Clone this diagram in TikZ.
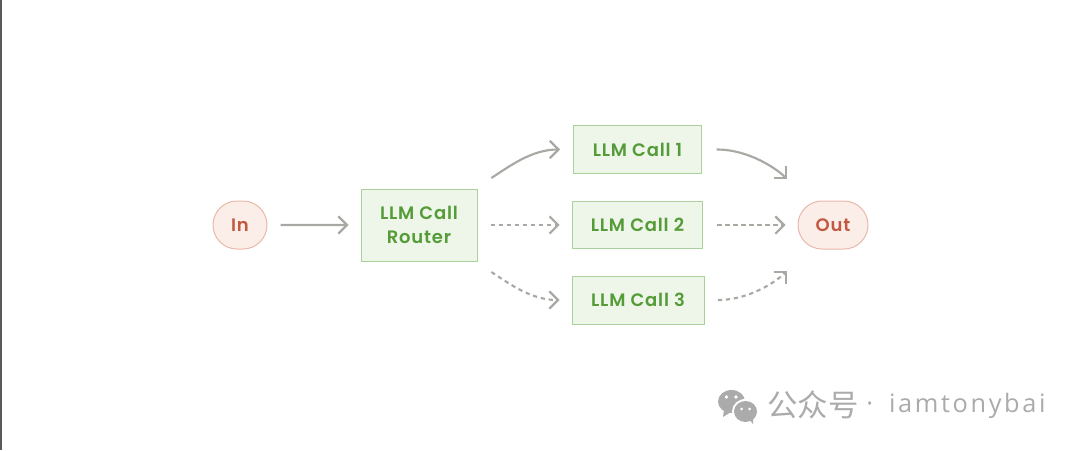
\documentclass[tikz,border=0pt]{standalone}
\usepackage{fontspec}
\setmainfont{Poppins}[BoldFont={Poppins SemiBold},LetterSpace=4.5]
\newfontfamily\markfont{Noto Sans CJK SC}
\newfontfamily\latinmark{Open Sans}[LetterSpace=10.5]
\usetikzlibrary{arrows.meta,shapes.misc}
\definecolor{flowgray}{HTML}{A9A9A3}
\definecolor{llmgreen}{HTML}{559C38}
\definecolor{llmfill}{HTML}{EEF6EA}
\definecolor{llmline}{HTML}{AAD19C}
\definecolor{termred}{HTML}{C2583F}
\definecolor{termfill}{HTML}{FBEEE9}
\definecolor{termline}{HTML}{E9B9AA}
\definecolor{markgray}{HTML}{ABABAB}
\tikzset{
  llmbox/.style={draw=llmline, fill=llmfill, text=llmgreen, line width=0.75pt, inner sep=0pt, align=center, font=\fontsize{13.5pt}{18pt}\selectfont\bfseries},
  termbox/.style={rounded rectangle, draw=termline, fill=termfill, text=termred, line width=0.75pt, inner sep=0pt, minimum height=36pt, font=\fontsize{13.5pt}{18pt}\selectfont\bfseries},
  flow/.style={draw=flowgray, line width=1.6pt, -{Straight Barb[length=6.5pt,width=13pt,line width=1.6pt]}},
  flowdash/.style={flow, dash pattern=on 3.2pt off 2.8pt},
}
\begin{document}
\begin{tikzpicture}[x=0.75pt,y=-0.75pt]
\useasboundingbox (0,0) rectangle (1080,450);
\fill [white] (0,0) rectangle (1080,450);
\fill [black!65] (0,0) rectangle (1.6,450);
\node [termbox, minimum width=40.5pt] (in) at (240,225) {In};
\node [llmbox, minimum width=87pt, minimum height=54pt] (router) at (419,225) {LLM Call\\Router};
\node [llmbox, minimum width=96pt, minimum height=36pt] (call1) at (637.5,149.5) {LLM Call 1};
\node [llmbox, minimum width=98pt, minimum height=35.5pt] (call2) at (637.5,225) {LLM Call 2};
\node [llmbox, minimum width=99pt, minimum height=36pt] (call3) at (638,300) {LLM Call 3};
\node [termbox, minimum width=52.5pt] (out) at (833,225) {Out};
\draw [flow, shorten <=9.75pt, shorten >=9pt] (in) -- (router);
\draw [flow, shorten <=14.5pt, shorten >=9.75pt] (router) to [out=33, in=180] (call1.west);
\draw [flowdash, shorten <=9.75pt, shorten >=9pt] (router) -- (call2);
\draw [flowdash, shorten <=14.5pt, shorten >=9pt] (router) to [out=-33, in=180] (call3.west);
\draw [flow, shorten <=11pt, shorten >=25.5pt] (call1.east) to [out=0, in=135] (out);
\draw [flowdash, shorten <=10.5pt, shorten >=9pt] (call2) -- (out);
\draw [flowdash, shorten <=10pt, shorten >=25.5pt] (call3.east) to [out=0, in=225] (out);
\fill [markgray] (731.5,401.5) ellipse (13.5 and 11.5);
\fill [markgray] (724,410) -- (723,417) -- (731,412);
\fill [white] (745.5,411.5) ellipse (13.5 and 12.5);
\fill [markgray] (745.5,411.5) ellipse (11.5 and 10.5);
\fill [markgray] (749,419) -- (753,424) -- (753,416);
\fill [white] (726.5,397) circle (1.8) (736,397) circle (1.8) (741.5,409) circle (1.5) (749.5,409) circle (1.5);
\node [text=markgray, inner sep=0pt, anchor=west, font=\fontsize{22.8pt}{24pt}\selectfont\markfont] (mark) at (767,405) {公众号};
\node [text=markgray, inner sep=0pt, anchor=west, font=\fontsize{19pt}{24pt}\selectfont\latinmark] (handle) at (866,406) {·\hspace{12pt}iamtonybai};
\end{tikzpicture}
\end{document}
